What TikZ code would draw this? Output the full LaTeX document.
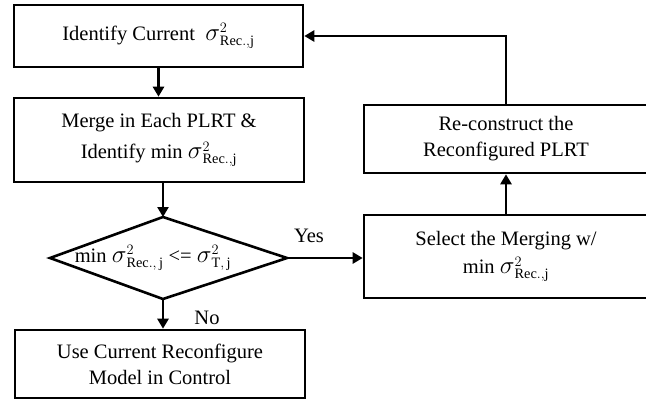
\documentclass[tikz,border=0pt]{standalone}
\usepackage{fontspec}
\setmainfont{Liberation Serif}
\usetikzlibrary{arrows.meta}
\newcommand{\sg}{\mbox{\fontsize{24}{24}\selectfont$\sigma$}}
\begin{document}
\begin{tikzpicture}[x=1pt,y=-1pt,
  box/.style={draw, line width=2.6pt, align=center, inner sep=0pt,
    font=\fontsize{20.5}{26}\selectfont},
  lbl/.style={font=\fontsize{20.5}{24}\selectfont, inner sep=0pt},
  arr/.style={line width=2.6pt, -{Triangle[length=10pt,width=11pt]}},
  edge/.style={line width=2.6pt, line join=miter}]
\useasboundingbox (0,0) rectangle (646,400);
\clip (0,0) rectangle (646,400);
\node[box, minimum width=289pt, minimum height=62pt] (b1) at (158.5,36)
  {Identify Current\ \ $\sg^2_{\mathrm{Rec.,j}}$};
\node[box, minimum width=290pt, minimum height=84pt] (b2) at (159,140)
  {Merge in Each PLRT \&\\[5pt] Identify min $\sg^2_{\mathrm{Rec.,j}}$};
\coordinate (dT) at (163,217);
\coordinate (dR) at (287,258);
\coordinate (dB) at (163,299);
\coordinate (dL) at (50,258);
\draw[edge] (dT) -- (dR) -- (dB) -- (dL) -- cycle;
\node[lbl] (dtext) at (153,258)
  {min $\sg^2_{\mathrm{Rec.,\,j}}$ <= $\sg^2_{\mathrm{T,\,j}}$};
\node[box, minimum width=290pt, minimum height=68pt] (b3) at (160,364)
  {Use Current Reconfigure\\ Model in Control};
\node[box, minimum width=284pt, minimum height=83pt] (b4) at (506,256.5)
  {Select the Merging w/\\[2pt] min $\sg^2_{\mathrm{Rec.,j}}$};
\node[box, minimum width=284pt, minimum height=68pt] (b5) at (506,139)
  {Re-construct the\\ Reconfigured PLRT};
\draw[arr] (b1.south) -- (b1.south |- b2.north);
\draw[arr] (b2.south -| dT) -- (dT);
\draw[arr] (dB) -- (dB |- b3.north);
\draw[arr] (dR) -- (dR -| b4.west);
\draw[arr] (b4.north) -- (b5.south);
\draw[arr] (b5.north) |- (b1.east);
\node[lbl] (yes) at (309,236) {Yes};
\node[lbl] (no) at (207,318) {No};
\end{tikzpicture}
\end{document}
